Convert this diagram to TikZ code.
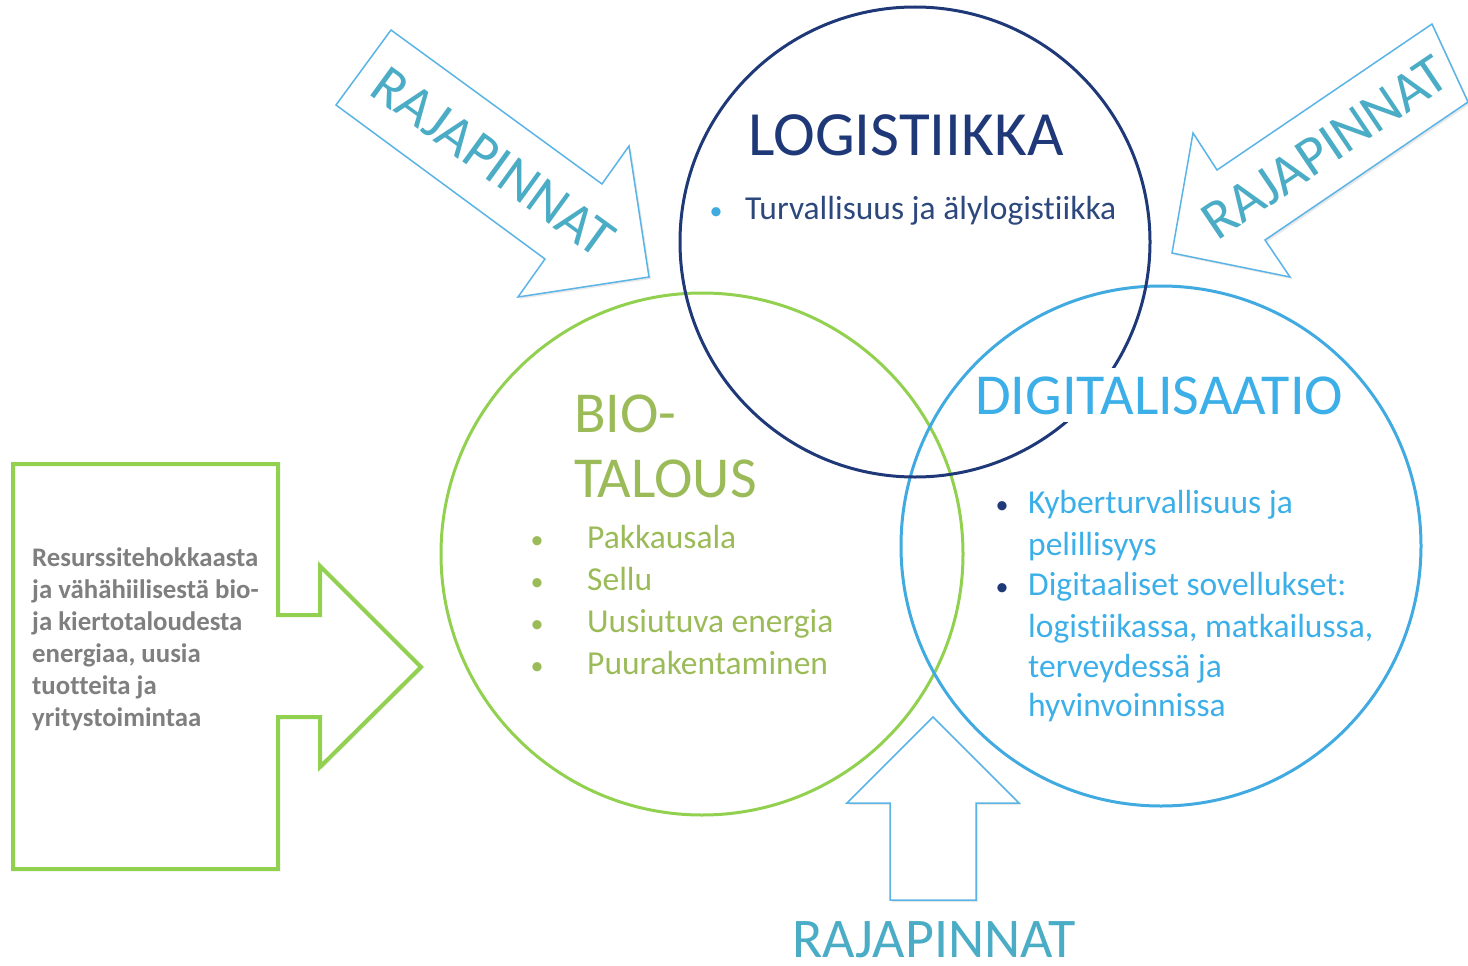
\documentclass[tikz,border=0pt]{standalone}
\usepackage{fontspec}
\setmainfont{Carlito}[Ligatures = {NoCommon, NoContextual}, Contextuals = NoAlternate, RawFeature = {-liga;-clig;-dlig}]
\usepackage{xcolor}
\usepackage{tikz}
\usetikzlibrary{shadows}

\definecolor{logiBlue}{RGB}{31,56,120}
\definecolor{logiText}{RGB}{45,72,125}
\definecolor{bioGreen}{RGB}{146,208,80}
\definecolor{bioText}{RGB}{155,187,89}
\definecolor{digiBlue}{RGB}{65,170,225}
\definecolor{digiText}{RGB}{60,175,232}
\definecolor{arrowBlue}{RGB}{90,180,230}
\definecolor{rajaText}{RGB}{75,172,198}
\definecolor{boxGray}{RGB}{127,127,127}

\tikzset{
  sphere/.style = {circle, draw, line width = 3pt, minimum size = #1, inner sep = 0},
  titleText/.style = {anchor = base west, inner sep = 0, font = \fontsize{58}{62}\selectfont},
  itemText/.style = {anchor = base west, inner sep = 0, font = \fontsize{33.5}{40}\selectfont},
  bulletDot/.style = {anchor = base, inner sep = 0, font = \fontsize{26}{30}\selectfont},
  softShadow/.style = {drop shadow = {opacity = 0.18, shadow xshift = 2pt, shadow yshift = -2pt}},
  rajaArrow/.style = {draw = arrowBlue, line width = 1.5pt, fill = white, softShadow},
  raja/.style = {rajaText, inner sep = 0, font = \fontsize{56}{60}\selectfont}
}

\begin{document}
\begin{tikzpicture}[x = 1pt, y = -1pt]
\useasboundingbox (0, 0) rectangle (1468, 966);

% circles
\node [sphere = 522pt, draw = bioGreen] (bio) at (702, 554) {};
\node [sphere = 520pt, draw = digiBlue] (digi) at (1161, 546) {};
\node [sphere = 470pt, draw = logiBlue] (logi) at (915, 242) {};

% logistiikka
\node [titleText, logiBlue, font = \fontsize{63}{66}\selectfont] (logiTitle) at (748, 155) {LOGISTIIKKA};
\node [bulletDot, digiBlue] (logiDot) at (716, 219) {\textbullet};
\node [itemText, logiText] (logiItem) at (745, 219) {Turvallisuus ja älylogistiikka};

% biotalous
\node [titleText, bioText] (bioTitleA) at (574, 432) {BIO-};
\node [titleText, bioText] (bioTitleB) at (574, 497) {TALOUS};
\node [bulletDot, bioText] (bioDotA) at (537, 548) {\textbullet};
\node [bulletDot, bioText] (bioDotB) at (537, 590) {\textbullet};
\node [bulletDot, bioText] (bioDotC) at (537, 632) {\textbullet};
\node [bulletDot, bioText] (bioDotD) at (537, 674) {\textbullet};
\node [itemText, bioText] (bioItemA) at (587, 548) {Pakkausala};
\node [itemText, bioText] (bioItemB) at (587, 590) {Sellu};
\node [itemText, bioText] (bioItemC) at (587, 632) {Uusiutuva energia};
\node [itemText, bioText] (bioItemD) at (587, 674) {Puurakentaminen};

% digitalisaatio
\node [titleText, digiText, fill = white, inner ysep = 8pt] (digiTitle) at (975, 414) {DIGITALISAATIO};
\node [bulletDot, logiBlue] (digiDotA) at (1002, 513) {\textbullet};
\node [bulletDot, logiBlue] (digiDotB) at (1002, 595) {\textbullet};
\node [itemText, digiText] (digiItemA) at (1028, 513) {Kyberturvallisuus ja};
\node [itemText, digiText] (digiItemB) at (1028, 555) {pelillisyys};
\node [itemText, digiText] (digiItemC) at (1028, 595) {Digitaaliset sovellukset:};
\node [itemText, digiText] (digiItemD) at (1028, 637) {logistiikassa, matkailussa,};
\node [itemText, digiText] (digiItemE) at (1028, 677) {terveydessä ja};
\node [itemText, digiText] (digiItemF) at (1028, 716) {hyvinvoinnissa};

% green box arrow
\draw [draw = bioGreen, line width = 4pt, fill = white, softShadow] (13, 464) -- (278, 464) -- (278, 615) -- (320, 615) -- (320, 566) -- (421, 667) -- (320, 767) -- (320, 717) -- (278, 717) -- (278, 869) -- (13, 869) -- cycle;
\node [anchor = north west, inner sep = 0, align = left, boxGray, font = \fontsize{26.8}{32}\selectfont\bfseries] (boxText) at (32, 547) {Resurssitehokkaasta\\ja vähähiilisestä bio-\\ja kiertotaloudesta\\energiaa, uusia\\tuotteita ja\\yritystoimintaa};

% rajapinnat arrows
\draw [rajaArrow] (391, 30) -- (602, 184) -- (629, 146) -- (649, 277) -- (518, 297) -- (545, 259) -- (336, 105) -- cycle;
\node [raja, rotate = -36] (rajaNW) at (493, 162) {RAJAPINNAT};

\draw [rajaArrow] (1432, 24) -- (1217, 170) -- (1193, 133) -- (1172, 253) -- (1290, 277) -- (1265, 240) -- (1468, 102) -- cycle;
\node [raja, rotate = 34] (rajaNE) at (1325, 148) {RAJAPINNAT};

\draw [rajaArrow] (933, 717) -- (1019, 803) -- (976, 803) -- (976, 900) -- (890, 900) -- (890, 803) -- (847, 803) -- cycle;
\node [raja, anchor = base] (rajaS) at (934, 957) {RAJAPINNAT};
\end{tikzpicture}
\end{document}
